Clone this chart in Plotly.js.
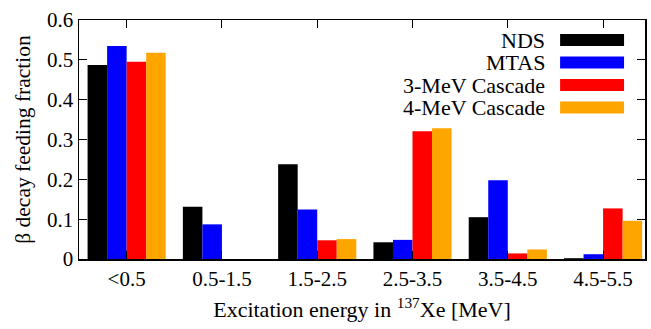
<!DOCTYPE html>
<html>
<head>
<meta charset="utf-8">
<script src="https://cdn.plot.ly/plotly-3.0.1.min.js"></script>
<style>html,body{margin:0;padding:0;background:#fff;}</style>
</head>
<body>
<div id="chart" style="width:651px;height:329px;"></div>
<script>
const categories = ["<0.5", "0.5-1.5", "1.5-2.5", "2.5-3.5", "3.5-4.5", "4.5-5.5"];
const seriesNames = ["NDS", "MTAS", "3-MeV Cascade", "4-MeV Cascade"];
const seriesColors = ["#000000", "#0000ff", "#ff0000", "#ffa500"];
const ndsValues = [0.487, 0.131, 0.238, 0.042, 0.105, 0.002];
const mtasValues = [0.535, 0.087, 0.124, 0.048, 0.198, 0.012];
const cascade3Values = [0.495, 0.0, 0.047, 0.321, 0.014, 0.127];
const cascade4Values = [0.518, 0.0, 0.050, 0.328, 0.024, 0.096];
const allValues = [ndsValues, mtasValues, cascade3Values, cascade4Values];

const FONT = "Liberation Serif";

const traces = allValues.map((vals, i) => ({
  type: "bar",
  x: categories,
  y: vals,
  name: seriesNames[i],
  marker: { color: seriesColors[i], line: { width: 0 } },
  showlegend: false
}));

const legTextX = 0.827, swX0 = 0.850, swX1 = 0.963;
const legY0 = 0.916, legStep = 0.094, swHalf = 0.025;
const annotations = seriesNames.map((n, i) => ({
  xref: "paper", yref: "paper",
  x: legTextX, y: legY0 - i * legStep,
  xanchor: "right", yanchor: "middle",
  text: n, showarrow: false,
  font: { family: FONT, size: 22, color: "#000" }
}));
const shapes = seriesColors.map((c, i) => ({
  type: "rect", xref: "paper", yref: "paper",
  x0: swX0, x1: swX1,
  y0: legY0 - i * legStep - swHalf, y1: legY0 - i * legStep + swHalf,
  fillcolor: c, line: { width: 0 }
}));

const layout = {
  width: 651, height: 329,
  margin: { l: 79, r: 6, t: 20, b: 70 },
  paper_bgcolor: "#fff", plot_bgcolor: "#fff",
  barmode: "group", bargap: 0.18, bargroupgap: 0,
  font: { family: FONT, size: 21, color: "#000" },
  showlegend: false,
  xaxis: {
    type: "category",
    range: [-0.5, 5.44],
    showline: true, linecolor: "#000", linewidth: 1.5, mirror: "ticks",
    ticks: "inside", ticklen: 8, tickwidth: 1, tickcolor: "#000",
    showgrid: false, zeroline: false,
    tickfont: { family: FONT, size: 21, color: "#000" },
    title: { text: "Excitation energy in <sup>137</sup>Xe [MeV]", font: { family: FONT, size: 22, color: "#000" }, standoff: 12 }
  },
  yaxis: {
    range: [0, 0.6], dtick: 0.1,
    showline: true, linecolor: "#000", linewidth: 1.5, mirror: "ticks",
    ticks: "inside", ticklen: 8, tickwidth: 1, tickcolor: "#000",
    showgrid: false, zeroline: false,
    tickfont: { family: FONT, size: 21, color: "#000" },
    title: { text: "β decay feeding fraction", font: { family: FONT, size: 21.5, color: "#000" }, standoff: 10 }
  },
  annotations: annotations,
  shapes: shapes
};

Plotly.newPlot("chart", traces, layout, { staticPlot: true });
</script>
</body>
</html>
